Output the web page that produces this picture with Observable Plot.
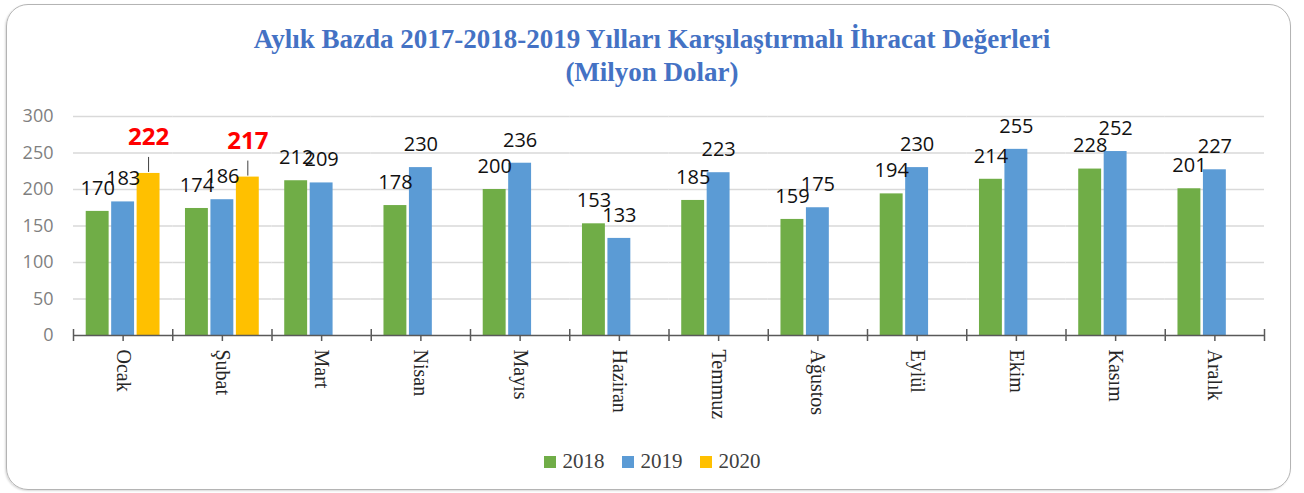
<!DOCTYPE html>
<html>
<head>
<meta charset="utf-8">
<script src="https://cdn.jsdelivr.net/npm/d3@7"></script>
<script src="https://cdn.jsdelivr.net/npm/@observablehq/plot@0.6"></script>
<style>
  html, body { margin: 0; padding: 0; background: #fff; }
  body { width: 1304px; height: 493px; overflow: hidden; position: relative; font-family: "Open Sans", sans-serif; }
  #frame { position: absolute; left: 6px; top: 4px; width: 1285px; height: 486px; border: 1.5px solid #b4b4b4; border-radius: 22px; box-sizing: border-box; box-shadow: -1px 1px 2px rgba(0,0,0,0.15); }
  #title { position: absolute; left: 0; top: 23px; width: 1304px; text-align: center; font-family: "Liberation Serif", serif; font-weight: bold; color: #4472c4; font-size: 27px; line-height: 33px; }
  #chart { position: absolute; left: 0; top: 100px; }
  #legend { position: absolute; left: 0; top: 449px; width: 1304px; display: flex; justify-content: center; align-items: center; gap: 17px; font-family: "Liberation Serif", serif; font-size: 21px; color: #404040; }
  .item { display: flex; align-items: center; gap: 7px; }
  .sw { width: 12px; height: 12px; display: inline-block; }
</style>
</head>
<body>
<div id="frame"></div>
<div id="title">Aylık Bazda 2017-2018-2019 Yılları Karşılaştırmalı İhracat Değerleri<br>(Milyon Dolar)</div>
<div id="chart"></div>
<div id="legend"></div>
<script>
const months = ["Ocak", "Şubat", "Mart", "Nisan", "Mayıs", "Haziran", "Temmuz", "Ağustos", "Eylül", "Ekim", "Kasım", "Aralık"];
const years = ["2018", "2019", "2020"];
const values2018 = [170, 174, 212, 178, 200, 153, 185, 159, 194, 214, 228, 201];
const values2019 = [183, 186, 209, 230, 236, 133, 223, 175, 230, 255, 252, 227];
const values2020 = [222, 217];
const colors = ["#70ad47", "#5b9bd5", "#ffc000"];
const yTicks = [0, 50, 100, 150, 200, 250, 300];

const rows = [];
values2018.forEach((v, i) => rows.push({month: months[i], year: "2018", value: v}));
values2019.forEach((v, i) => rows.push({month: months[i], year: "2019", value: v}));
values2020.forEach((v, i) => rows.push({month: months[i], year: "2020", value: v}));
const rowsOld = rows.filter(d => d.year !== "2020");
const rowsNew = rows.filter(d => d.year === "2020");

const W = 1304, H = 340, ML = 73, MR = 40, MT = 16, MB = 105;
const step = (W - ML - MR) / months.length;

const chart = Plot.plot({
  width: W, height: H,
  marginLeft: ML, marginRight: MR, marginTop: MT, marginBottom: MB,
  style: {background: "transparent", fontFamily: "'Open Sans', sans-serif", overflow: "visible"},
  fx: {domain: months, padding: 0, round: false},
  x: {domain: years, paddingInner: 0.1, paddingOuter: 0.5, round: false, axis: null},
  y: {domain: [0, 300]},
  color: {domain: years, range: colors},
  marks: [
    Plot.ruleY(yTicks.filter(t => t > 0), {stroke: "#d9d9d9", strokeWidth: 1.5}),
    Plot.axisY({ticks: yTicks, tickSize: 0, tickPadding: 20, fontSize: 18, color: "#7f7f7f", label: null}),
    Plot.barY(rows, {fx: "month", x: "year", y: "value", fill: "year"}),
    Plot.ruleY([0], {stroke: "#595959", strokeWidth: 1.5}),
    Plot.ruleX(months, {fx: d => d, x: null, y1: 0, y2: 0, insetTop: -6, insetBottom: -6, dx: -step / 2, stroke: "#595959", strokeWidth: 1.5}),
    Plot.ruleX(months.slice(-1), {fx: d => d, x: null, y1: 0, y2: 0, insetTop: -6, insetBottom: -6, dx: step / 2, stroke: "#595959", strokeWidth: 1.5}),
    Plot.axisFx({anchor: "bottom", tickSize: 6, tickPadding: 8, tickRotate: 90, fontSize: 20, fontFamily: "'Liberation Serif', serif", color: "#262626", stroke: "#595959", strokeWidth: 1.5, label: null}),
    Plot.text(rowsOld, {fx: "month", x: "year", y: "value", text: d => String(d.value), dy: -23, fontSize: 20, fill: "#111"}),
    Plot.ruleX(rowsNew, {fx: "month", x: "year", y1: "value", y2: "value", insetTop: -1, insetBottom: 16, stroke: "#404040", strokeWidth: 1}),
    Plot.text(rowsNew, {fx: "month", x: "year", y: "value", text: d => String(d.value), dy: -36, fontSize: 24, fontWeight: "bold", fill: "#ff0000"})
  ]
});
document.getElementById("chart").appendChild(chart);

const legend = document.getElementById("legend");
years.forEach((y, i) => {
  const it = document.createElement("div");
  it.className = "item";
  const sw = document.createElement("span");
  sw.className = "sw";
  sw.style.background = colors[i];
  const t = document.createElement("span");
  t.textContent = y;
  it.appendChild(sw);
  it.appendChild(t);
  legend.appendChild(it);
});
</script>
</body>
</html>
